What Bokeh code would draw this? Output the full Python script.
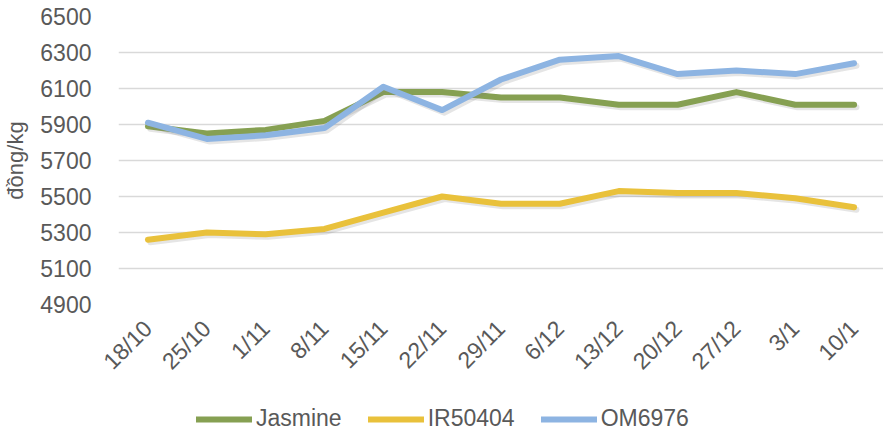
import math
from bokeh.plotting import figure
from bokeh.layouts import column
from bokeh.models import ColumnDataSource, FixedTicker, Legend, LegendItem, FactorRange
from bokeh.transform import dodge
from bokeh.embed import file_html
from bokeh.resources import INLINE

dates = ["18/10", "25/10", "1/11", "8/11", "15/11", "22/11", "29/11",
         "6/12", "13/12", "20/12", "27/12", "3/1", "10/1"]
jasmine = [5890, 5850, 5870, 5920, 6080, 6080, 6050, 6050, 6010, 6010, 6080, 6010, 6010]
ir50404 = [5260, 5300, 5290, 5320, 5410, 5500, 5460, 5460, 5530, 5520, 5520, 5490, 5440]
om6976 = [5910, 5820, 5840, 5880, 6110, 5980, 6150, 6260, 6280, 6180, 6200, 6180, 6240]
y_ticks = [4900, 5100, 5300, 5500, 5700, 5900, 6100, 6300, 6500]
series_names = ["Jasmine", "IR50404", "OM6976"]
series_colors = ["#86A052", "#E9C13B", "#8DB4E2"]

src = ColumnDataSource(dict(x=dates, jasmine=jasmine, ir=ir50404, om=om6976))

FONT = "Liberation Sans"
TXT = "#595959"

p = figure(width=883, height=388, x_range=dates, y_range=(4900, 6500),
           output_backend="svg", toolbar_location=None,
           min_border_left=116, min_border_right=0, min_border_top=16,
           min_border_bottom=84)
p.outline_line_color = None
p.background_fill_color = "white"

for key, name, col in zip(["jasmine", "ir", "om"], series_names, series_colors):
    p.line(x=dodge("x", 0.04, range=p.x_range), y=dodge(key, -14), source=src,
           line_color="#7F7F7F", line_alpha=0.2, line_width=6,
           line_cap="round", line_join="round")
    p.line(x="x", y=key, source=src, line_color=col, line_width=6,
           line_cap="round", line_join="round")

p.yaxis.ticker = FixedTicker(ticks=y_ticks)
p.ygrid.ticker = FixedTicker(ticks=y_ticks)
p.xgrid.grid_line_color = None
p.ygrid.grid_line_color = "#D9D9D9"
p.ygrid.grid_line_width = 1.5

for ax in (p.xaxis[0], p.yaxis[0]):
    ax.axis_line_color = None
    ax.major_tick_line_color = None
    ax.minor_tick_line_color = None
    ax.major_label_text_font = FONT
    ax.major_label_text_font_size = "23px"
    ax.major_label_text_color = TXT

ya = p.yaxis[0]
ya.major_label_standoff = 21
ya.axis_label = "đồng/kg"
ya.axis_label_text_font = FONT
ya.axis_label_text_font_size = "22px"
ya.axis_label_text_font_style = "normal"
ya.axis_label_text_color = TXT
ya.axis_label_standoff = 9

xa = p.xaxis[0]
xa.major_label_orientation = math.pi / 4
xa.major_label_standoff = 14

# legend strip below the chart
lg = figure(width=883, height=44, x_range=FactorRange(*dates), y_range=(0, 1),
            output_backend="svg", toolbar_location=None,
            x_axis_type=None, y_axis_type=None,
            min_border_left=0, min_border_right=0, min_border_top=0, min_border_bottom=0)
lg.outline_line_color = None
lg.xgrid.visible = False
lg.ygrid.visible = False
items = []
for key, name, col in zip(["jasmine", "ir", "om"], series_names, series_colors):
    r = lg.line(x="x", y=key, source=src, line_color=col, line_width=6, line_cap="round")
    items.append(LegendItem(label=name, renderers=[r]))
legend = Legend(items=items, orientation="horizontal", location=(78, 0))
legend.border_line_color = None
legend.background_fill_alpha = 0
legend.label_text_font = FONT
legend.label_text_font_size = "23px"
legend.label_text_color = TXT
legend.glyph_width = 56
legend.glyph_height = 20
legend.label_standoff = 4
legend.spacing = 26
legend.padding = 0
legend.margin = 0
lg.add_layout(legend, "center")

layout = column(p, lg, spacing=0)
open("out.html", "w").write(file_html(layout, INLINE))
